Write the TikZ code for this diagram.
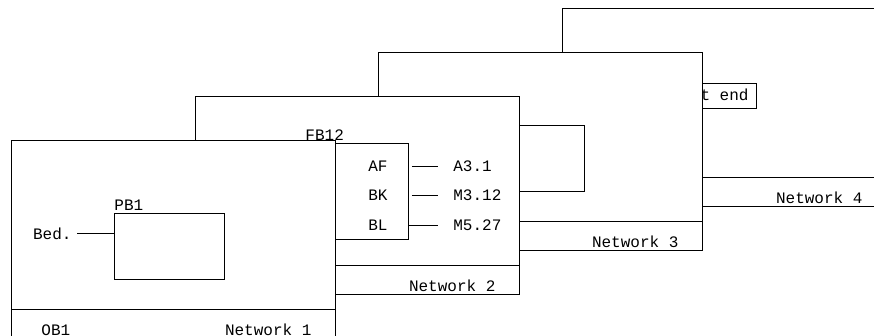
\documentclass[tikz,border=0pt]{standalone}
\usepackage{fontspec}
\newfontfamily\plcfont{Liberation Mono}
\usetikzlibrary{positioning,calc}
\tikzset{
  panel/.style={draw,fill=white,anchor=north west,inner sep=0pt,minimum width=324pt,minimum height=198pt},
  blk/.style={draw,fill=white,anchor=north west,inner sep=0pt},
  txt/.style={font=\plcfont\fontsize{16}{16}\selectfont,inner sep=0pt},
}
\begin{document}
\begin{tikzpicture}[x=1pt,y=-1pt,line width=0.9pt]
  \useasboundingbox (0,0) rectangle (874,335);
  \clip (0,0) rectangle (874,335);
  \node[panel] (p4) at (562,8) {};
  \draw ($(p4.south west)+(0,-29.5)$) -- ($(p4.south east)+(0,-29.5)$);
  \node[txt,anchor=base east] (n4) at ($(p4.south east)+(-24,-3)$) {Network 4};
  \node[blk,txt,anchor=north east,minimum height=25pt,inner xsep=8pt,inner ysep=0pt] (seg) at ($(p4.north west)+(195,75)$) {Segment end};
  \node[panel] (p3) at (378,52) {};
  \draw ($(p3.south west)+(0,-29.5)$) -- ($(p3.south east)+(0,-29.5)$);
  \node[txt,anchor=base east] (n3) at ($(p3.south east)+(-24,-3)$) {Network 3};
  \node[blk,minimum width=110pt,minimum height=66pt] (box3) at ($(p3.north west)+(96,73)$) {};
  \node[panel] (p2) at (195,96) {};
  \draw ($(p2.south west)+(0,-29.5)$) -- ($(p2.south east)+(0,-29.5)$);
  \node[txt,anchor=base east] (n2) at ($(p2.south east)+(-24,-3)$) {Network 2};
  \node[blk,minimum width=105pt,minimum height=96pt] (fb12) at ($(p2.north west)+(108,47)$) {};
  \node[txt,anchor=base west] (fb12l) at ($(fb12.north west)+(2,-3)$) {FB12};
  \foreach \pin/\addr/\dy/\gap [count=\i] in {AF/A3.1/23/3,BK/M3.12/52/3,BL/M5.27/82/0}{
    \node[txt,anchor=east] (pin\i) at ($(fb12.north east)+(-21,\dy)$) {\pin};
    \node[txt,anchor=west] (adr\i) at ($(fb12.north east)+(44,\dy)$) {\addr};
    \draw ($(fb12.east |- pin\i.east)+(\gap,0)$) -- ($(adr\i.west)+(-15,0)$);
  }
  \node[panel] (p1) at (11,140) {};
  \draw ($(p1.south west)+(0,-29.5)$) -- ($(p1.south east)+(0,-29.5)$);
  \node[txt,anchor=base east] (n1) at ($(p1.south east)+(-24,-3)$) {Network 1};
  \node[txt,anchor=base west] (ob1) at ($(p1.south west)+(30,-3)$) {OB1};
  \node[blk,minimum width=110pt,minimum height=66pt] (pb1) at ($(p1.north west)+(103,73)$) {};
  \node[txt,anchor=base west] (pb1l) at ($(pb1.north west)+(0,-3)$) {PB1};
  \coordinate (bedpin) at ($(pb1.north west)+(0,22)$);
  \node[txt,anchor=base east] (bed) at ($(bedpin)+(-42,4)$) {Bed.};
  \draw ($(bed.east)+(5,0)$) -- (bed.east -| pb1.west);
\end{tikzpicture}
\end{document}
